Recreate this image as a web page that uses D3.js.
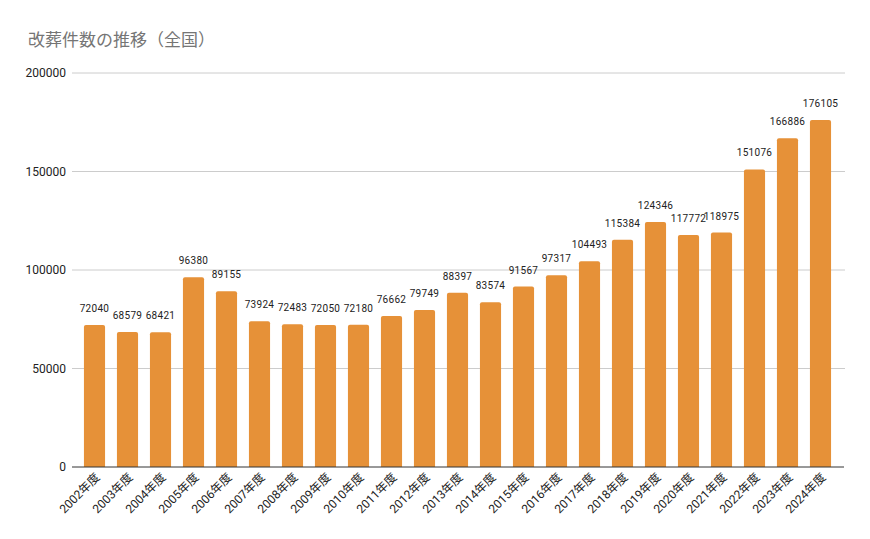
<!DOCTYPE html>
<html>
<head>
<meta charset="utf-8">
<script src="https://cdn.jsdelivr.net/npm/d3@7"></script>
<style>
  body { margin: 0; background: #fff; }
  text { font-family: Roboto, "Noto Sans CJK JP", sans-serif; }
</style>
</head>
<body>
<div id="chart"></div>
<script>
var w = 870;
var h = 539;

// years (fiscal) and number of reburials
var years = ['2002年度', '2003年度', '2004年度', '2005年度', '2006年度', '2007年度', '2008年度', '2009年度',
  '2010年度', '2011年度', '2012年度', '2013年度', '2014年度', '2015年度', '2016年度', '2017年度',
  '2018年度', '2019年度', '2020年度', '2021年度', '2022年度', '2023年度', '2024年度'];
var counts = [72040, 68579, 68421, 96380, 89155, 73924, 72483, 72050, 72180, 76662, 79749, 88397,
  83574, 91567, 97317, 104493, 115384, 124346, 117772, 118975, 151076, 166886, 176105];
var yTicks = [0, 50000, 100000, 150000, 200000];

var svg = d3.select('#chart').append('svg')
  .attr('width', w)
  .attr('height', h);

svg.append('text')
  .attr('x', 28)
  .attr('y', 46)
  .attr('fill', '#757575')
  .style('font-size', '17px')
  .style('font-family', '"Noto Sans CJK JP", sans-serif')
  .text('改葬件数の推移（全国）');

var x = d3.scaleBand()
  .domain(years)
  .range([78, 837])
  .paddingInner(0.36)
  .paddingOuter(0.18);

var y = d3.scaleLinear()
  .domain([0, 200000])
  .range([467, 73]);

// gridlines
svg.append('g').selectAll('line')
  .data(yTicks.slice(1))
  .enter().append('line')
  .attr('x1', 72).attr('x2', 845)
  .attr('y1', function(d) { return y(d); })
  .attr('y2', function(d) { return y(d); })
  .attr('stroke', '#cccccc')
  .attr('stroke-width', 1);

// y labels
svg.append('g').selectAll('text')
  .data(yTicks)
  .enter().append('text')
  .attr('x', 66)
  .attr('y', function(d) { return y(d) + 4; })
  .attr('text-anchor', 'end')
  .attr('fill', '#222')
  .style('font-size', '12px')
  .text(function(d) { return d; });

// bars (slightly rounded top)
var r = 2;
svg.append('g').selectAll('path')
  .data(counts)
  .enter().append('path')
  .attr('fill', '#e69138')
  .attr('d', function(d, i) {
    var x0 = x(years[i]), bw = x.bandwidth(), y0 = y(d), yb = y(0);
    return 'M' + x0 + ',' + yb +
      'V' + (y0 + r) +
      'Q' + x0 + ',' + y0 + ' ' + (x0 + r) + ',' + y0 +
      'H' + (x0 + bw - r) +
      'Q' + (x0 + bw) + ',' + y0 + ' ' + (x0 + bw) + ',' + (y0 + r) +
      'V' + yb + 'Z';
  });

// value labels
svg.append('g').selectAll('text')
  .data(counts)
  .enter().append('text')
  .attr('x', function(d, i) { return x(years[i]) + x.bandwidth() / 2; })
  .attr('y', function(d) { return y(d) - 13; })
  .attr('text-anchor', 'middle')
  .attr('fill', '#222')
  .style('font-size', '10px')
  .style('letter-spacing', '0.3px')
  .text(function(d) { return d; });

// baseline
svg.append('line')
  .attr('x1', 72).attr('x2', 844)
  .attr('y1', y(0)).attr('y2', y(0))
  .attr('stroke', '#333')
  .attr('stroke-width', 1);

// x labels, rotated
svg.append('g').selectAll('text')
  .data(years)
  .enter().append('text')
  .attr('transform', function(d) {
    var cx = x(d) + x.bandwidth() / 2 + 6;
    return 'translate(' + cx + ',' + 478 + ') rotate(-45)';
  })
  .attr('text-anchor', 'end')
  .attr('fill', '#222')
  .style('font-size', '12px')
  .style('font-family', 'Roboto, "Noto Sans CJK JP", sans-serif')
  .text(function(d) { return d; });
</script>
</body>
</html>
